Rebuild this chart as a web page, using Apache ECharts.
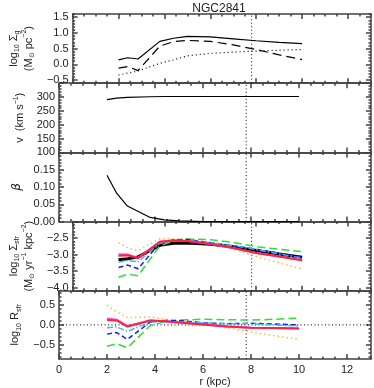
<!DOCTYPE html>
<html><head><meta charset="utf-8">
<script src="https://cdn.jsdelivr.net/npm/echarts@6/dist/echarts.min.js"></script>
<style>html,body{margin:0;padding:0;background:#fff}#c{width:374px;height:388px}</style>
</head><body><div id="c"></div>
<script>
// ---- data ----
const radius = [2.0, 2.4, 2.85, 3.8, 4.4, 5.0, 6.0, 7.0, 8.0, 9.0, 10.0];
// panel 1: log10 Sigma_gas
const gasTotal  = [0.14, 0.21, 0.17, 0.73, 0.83, 0.89, 0.87, 0.81, 0.75, 0.70, 0.66];
const gasDashed = [-0.12, -0.07, -0.20, 0.58, 0.72, 0.76, 0.73, 0.62, 0.47, 0.30, 0.15];
const gasDotted = [-0.34, -0.28, -0.21, 0.03, 0.14, 0.27, 0.35, 0.39, 0.42, 0.45, 0.47];
// panel 2: rotation velocity
const velocity  = [291, 296, 299, 301, 302, 302, 302, 302, 302, 302, 302];
// panel 3: beta
const beta      = [0.134, 0.082, 0.045, 0.012, 0.005, 0.002, 0.0, 0.0, 0.0, 0.0, 0.0];
// panel 4: log10 Sigma_sfr
const sfrObs     = [-3.16, -3.13, -3.07, -2.72, -2.66, -2.65, -2.69, -2.76, -2.88, -2.98, -3.08];
const sfrRed     = [-3.04, -3.02, -3.11, -2.61, -2.57, -2.59, -2.68, -2.80, -2.95, -3.06, -3.17];
const sfrMagenta = [-2.99, -3.00, -3.10, -2.61, -2.57, -2.59, -2.68, -2.80, -2.95, -3.06, -3.17];
const sfrCyan    = [-3.23, -3.18, -3.22, -2.65, -2.58, -2.58, -2.64, -2.73, -2.85, -2.98, -3.11];
const sfrBlue    = [-3.39, -3.32, -3.43, -2.65, -2.55, -2.54, -2.64, -2.73, -2.84, -2.96, -3.08];
const sfrGreen   = [-3.69, -3.60, -3.64, -2.74, -2.58, -2.53, -2.55, -2.63, -2.76, -2.84, -2.91];
const sfrOrange  = [-2.64, -2.80, -2.88, -2.52, -2.52, -2.55, -2.67, -2.83, -3.06, -3.25, -3.44];
// panel 5: log10 R_sfr
const rRed     = [0.12, 0.11, -0.04, 0.11, 0.09, 0.06, 0.01, -0.04, -0.07, -0.08, -0.09];
const rMagenta = [0.16, 0.13, -0.03, 0.11, 0.09, 0.06, 0.01, -0.04, -0.07, -0.08, -0.09];
const rCyan    = [-0.07, -0.05, -0.16, 0.07, 0.08, 0.07, 0.05, 0.03, 0.03, 0.00, -0.03];
const rBlue    = [-0.23, -0.19, -0.36, 0.07, 0.11, 0.11, 0.05, 0.03, 0.04, 0.02, 0.00];
const rGreen   = [-0.53, -0.47, -0.57, -0.02, 0.08, 0.12, 0.14, 0.13, 0.12, 0.14, 0.17];
const rOrange  = [0.49, 0.33, 0.18, 0.20, 0.14, 0.10, 0.02, -0.07, -0.18, -0.27, -0.36];
// reference radius (vertical dotted line)
const rRef = 7.8;
// tick labels
const xTicks = [0, 2, 4, 6, 8, 10, 12];
const yTicks1 = [-0.5, 0.0, 0.5, 1.0, 1.5];
const yTicks2 = [100, 150, 200, 250, 300];
const yTicks3 = [0.00, 0.05, 0.10, 0.15];
const yTicks4 = [-4.0, -3.5, -3.0, -2.5];
const yTicks5 = [-0.5, 0.0, 0.5];

// ---- layout ----
const FONT = 'Liberation Sans';
const AX = '#404040';
const top0 = 14, ph = 69.2;
function steps(a, b, s) { const o = []; const st = Math.ceil(a / s - 1e-9); for (let k = st; k * s <= b + 1e-9; k++) o.push(+(k * s).toFixed(6)); return o; }
const pair = (xs, ys) => xs.map((x, i) => [x, ys[i]]);
const rich = {
  n: {fontSize: 11, fontFamily: FONT, color: '#222', lineHeight: 15},
  s: {fontSize: 7, fontFamily: FONT, color: '#222', verticalAlign: 'bottom', lineHeight: 8},
  p: {fontSize: 7, fontFamily: FONT, color: '#222', verticalAlign: 'top', lineHeight: 8},
  b: {fontSize: 12, fontFamily: 'DejaVu Sans', fontStyle: 'italic', color: '#222', lineHeight: 15}
};
const panels = [
  {min: -0.6, max: 1.6, labels: yTicks1, majors: [-0.5, 0, 0.5, 1.0, 1.5], minor: 0.1, dec: 1,
   name: '{n|log}{s|10}{n| Σ}{s|g}\n{n|(M}{s|⊙}{n| pc}{p|−2}{n|)}'},
  {min: 100, max: 350, labels: yTicks2, majors: [100, 150, 200, 250, 300, 350], minor: 10, dec: 0,
   name: '{n|v  (km s}{p|−1}{n|)}'},
  {min: 0, max: 0.2, labels: yTicks3, majors: [0, 0.05, 0.1, 0.15, 0.2], minor: 0.01, dec: 2,
   name: '{b|β}'},
  {min: -4.1, max: -2.0, labels: yTicks4, majors: [-4.0, -3.5, -3.0, -2.5, -2.0], minor: 0.1, dec: 1,
   name: '{n|log}{s|10}{n| Σ}{s|sfr}\n{n|(M}{s|⊙}{n| yr}{p|−1}{n| kpc}{p|−2}{n|)}'},
  {min: -0.85, max: 0.85, labels: yTicks5, majors: [-0.5, 0, 0.5], minor: 0.1, dec: 1,
   name: '{n|log}{s|10}{n| R}{s|sfr}'}
];
const grids = [], xAxes = [], yAxes = [];
const lineSt = {color: AX, width: 1.5};
panels.forEach((p, i) => {
  grids.push({left: 59, right: 3, top: top0 + i * ph, height: ph, show: false});
  const last = i === panels.length - 1;
  const xMinor = steps(0, 13, 0.5);
  ['bottom', 'top'].forEach(pos => {
    xAxes.push({type: 'value', gridIndex: i, position: pos, min: 0, max: 13,
      axisLine: {show: true, onZero: false, lineStyle: lineSt},
      axisTick: {show: true, inside: true, length: 5, customValues: xTicks, lineStyle: lineSt},
      axisLabel: {show: last && pos === 'bottom', customValues: xTicks, margin: 5,
        fontFamily: FONT, fontSize: 11, color: '#222'},
      splitLine: {show: false},
      name: (last && pos === 'bottom') ? 'r (kpc)' : '', nameLocation: 'middle', nameGap: 17,
      nameTextStyle: {fontFamily: FONT, fontSize: 11, color: '#222'}});
    xAxes.push({type: 'value', gridIndex: i, position: pos, min: 0, max: 13,
      axisLine: {show: false, onZero: false},
      axisTick: {show: true, inside: true, length: 2.5, customValues: xMinor, lineStyle: lineSt},
      axisLabel: {show: false}, splitLine: {show: false}});
  });
  const yMinor = steps(p.min, p.max, p.minor);
  ['left', 'right'].forEach(pos => {
    yAxes.push({type: 'value', gridIndex: i, position: pos, min: p.min, max: p.max,
      axisLine: {show: true, onZero: false, lineStyle: lineSt},
      axisTick: {show: true, inside: true, length: 5, customValues: p.majors, lineStyle: lineSt},
      axisLabel: {show: pos === 'left', customValues: p.labels, margin: 4,
        fontFamily: FONT, fontSize: 11, color: '#222',
        formatter: v => (v < 0 ? '−' : '') + Math.abs(v).toFixed(p.dec)},
      splitLine: {show: false},
      name: pos === 'left' ? p.name : '', nameLocation: 'middle', nameRotate: 90, nameGap: 30,
      nameTextStyle: {rich: rich}});
    yAxes.push({type: 'value', gridIndex: i, position: pos, min: p.min, max: p.max,
      axisLine: {show: false, onZero: false},
      axisTick: {show: true, inside: true, length: 2.5, customValues: yMinor, lineStyle: lineSt},
      axisLabel: {show: false}, splitLine: {show: false}});
  });
});

const series = [];
function line(panel, data, color, width, type, z) {
  series.push({type: 'line', xAxisIndex: panel * 4, yAxisIndex: panel * 4, data: data,
    symbol: 'none', silent: true, z: z || 2, animation: false, clip: true,
    lineStyle: {color: color, width: width, type: type}});
}
// vertical reference lines
panels.forEach((p, i) => line(i, [[rRef, p.min], [rRef, p.max]], '#000', 1, [1, 2.5], 1));
// panel 1
line(0, pair(radius, gasTotal), '#000', 1.2, 'solid');
line(0, pair(radius, gasDashed), '#000', 1.2, [9, 5]);
line(0, pair(radius, gasDotted), '#000', 1.2, [1, 3]);
// panel 2
line(1, pair(radius, velocity), '#000', 1.2, 'solid');
// panel 3
line(2, pair(radius, beta), '#000', 1.2, 'solid');
// panel 4
line(3, pair(radius, sfrOrange), '#ffb840', 1.5, [1.5, 3]);
line(3, pair(radius, sfrObs), '#000', 3, 'solid');
line(3, pair(radius, sfrGreen), '#30e030', 1.5, [8, 4]);
line(3, pair(radius, sfrBlue), '#1a1aff', 1.5, [5, 3]);
line(3, pair(radius, sfrCyan), '#40b4ff', 1.5, [6, 2, 1.5, 2]);
line(3, pair(radius, sfrMagenta), '#ff50c8', 2, 'solid');
line(3, pair(radius, sfrRed), '#ff2040', 2, 'solid');
// panel 5
line(4, [[0, 0], [13, 0]], '#000', 1, [1, 2.5], 1);
line(4, pair(radius, rOrange), '#ffb840', 1.5, [1.5, 3]);
line(4, pair(radius, rGreen), '#30e030', 1.5, [8, 4]);
line(4, pair(radius, rBlue), '#1a1aff', 1.5, [5, 3]);
line(4, pair(radius, rCyan), '#40b4ff', 1.5, [6, 2, 1.5, 2]);
line(4, pair(radius, rMagenta), '#ff50c8', 2, 'solid');
line(4, pair(radius, rRed), '#ff2040', 2, 'solid');

const chart = echarts.init(document.getElementById('c'), null, {renderer: 'canvas'});
chart.setOption({
  animation: false,
  backgroundColor: '#fff',
  title: {text: 'NGC2841', left: 214, top: -2, textAlign: 'center',
    textStyle: {fontFamily: FONT, fontSize: 12, fontWeight: 'normal', color: '#222'}},
  grid: grids, xAxis: xAxes, yAxis: yAxes, series: series
});
</script></body></html>
